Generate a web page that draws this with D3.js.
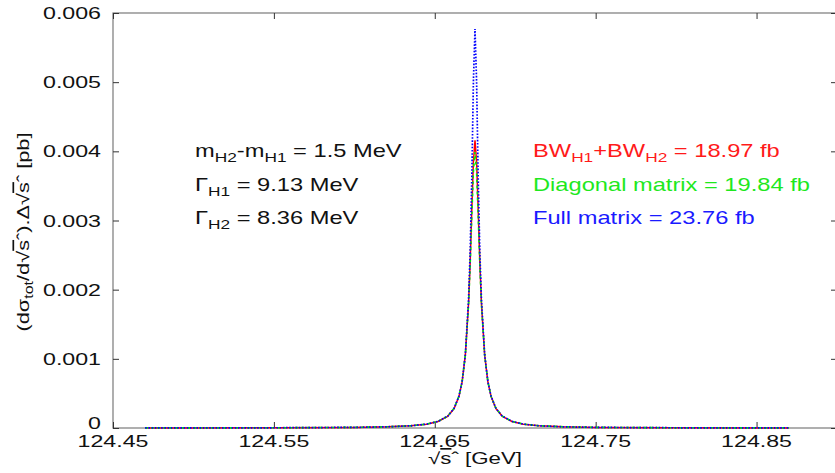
<!DOCTYPE html>
<html>
<head>
<meta charset="utf-8">
<script src="https://cdn.jsdelivr.net/npm/d3@7"></script>
<style>
  body { margin: 0; background: #fff; }
  svg { display: block; }
  text { font-family: "Liberation Sans", Arial, Helvetica, sans-serif; }
</style>
</head>
<body>
<svg id="chart" width="835" height="473"></svg>
<script>
// Partonic centre-of-mass energy bins (GeV)
const sqrtS = [124.470, 124.500, 124.550, 124.600, 124.620, 124.635, 124.645, 124.652, 124.658,
  124.662, 124.665, 124.667, 124.669, 124.671, 124.672, 124.673, 124.674, 124.675, 124.676,
  124.677, 124.678, 124.679, 124.681, 124.683, 124.685, 124.688, 124.692, 124.698, 124.705,
  124.715, 124.730, 124.750, 124.800, 124.850, 124.870];

// (dσ_tot / d√ŝ)·Δ√ŝ in pb for each treatment of the two-state system
const bwSum = [1.2e-6, 1.7e-6, 3.3e-6, 9.0e-6, 1.68e-5, 3.16e-5, 5.59e-5, 9.42e-5, 1.69e-4,
  2.82e-4, 4.54e-4, 6.68e-4, 1.056e-3, 1.804e-3, 2.398e-3, 3.136e-3, 3.846e-3, 4.16e-3, 3.846e-3,
  3.136e-3, 2.398e-3, 1.804e-3, 1.056e-3, 6.68e-4, 4.54e-4, 2.82e-4, 1.69e-4, 9.42e-5, 5.59e-5,
  3.16e-5, 1.68e-5, 9.0e-6, 3.3e-6, 1.7e-6, 1.3e-6];
const diagMatrix = [1.2e-6, 1.7e-6, 3.3e-6, 9.2e-6, 1.70e-5, 3.21e-5, 5.66e-5, 9.54e-5, 1.71e-4,
  2.84e-4, 4.58e-4, 6.72e-4, 1.056e-3, 1.786e-3, 2.355e-3, 3.049e-3, 3.704e-3, 3.99e-3, 3.704e-3,
  3.049e-3, 2.355e-3, 1.786e-3, 1.056e-3, 6.72e-4, 4.58e-4, 2.84e-4, 1.71e-4, 9.54e-5, 5.66e-5,
  3.21e-5, 1.70e-5, 9.2e-6, 3.3e-6, 1.7e-6, 1.3e-6];
const fullMatrix = [1.2e-6, 1.7e-6, 3.3e-6, 9.1e-6, 1.69e-5, 3.18e-5, 5.62e-5, 9.5e-5, 1.70e-4,
  2.84e-4, 4.58e-4, 6.70e-4, 1.06e-3, 1.86e-3, 2.55e-3, 3.60e-3, 5.00e-3, 5.77e-3, 5.00e-3,
  3.60e-3, 2.55e-3, 1.86e-3, 1.06e-3, 6.70e-4, 4.58e-4, 2.84e-4, 1.70e-4, 9.5e-5, 5.62e-5,
  3.18e-5, 1.69e-5, 9.1e-6, 3.3e-6, 1.7e-6, 1.3e-6];

const xTicks = [124.45, 124.55, 124.65, 124.75, 124.85];
const xTickLabels = ["124.45", "124.55", "124.65", "124.75", "124.85"];
const yTicks = [0, 0.001, 0.002, 0.003, 0.004, 0.005, 0.006];
const yTickLabels = ["0", "0.001", "0.002", "0.003", "0.004", "0.005", "0.006"];

const seriesNames = ["bw", "diag", "full"];
const seriesValues = [bwSum, diagMatrix, fullMatrix];

const svg = d3.select("#chart");
const plotL = 113, plotR = 837, plotT = 13, plotB = 428;

const x = d3.scaleLinear().domain([124.45, 124.90]).range([plotL, plotR]);
const y = d3.scaleLinear().domain([0, 0.006]).range([plotB, plotT]);

// Horizontally widened text, as the plot's lettering is set wide
function wideText(parent, px, py, sx, anchor, size) {
  return parent.append("text")
    .attr("transform", `translate(${px},${py}) scale(${sx},1)`)
    .attr("text-anchor", anchor)
    .attr("font-size", size);
}

// Text with subscripts: parts = [[string, isSub], ...]
function richText(t, parts, subSize, shift) {
  let down = false;
  parts.forEach(([s, sub]) => {
    const ts = t.append("tspan").text(s);
    if (sub && !down) { ts.attr("dy", shift); down = true; }
    else if (!sub && down) { ts.attr("dy", -shift); down = false; }
    if (sub) ts.attr("font-size", subSize);
  });
  return t;
}

// Frame
svg.append("rect")
  .attr("x", plotL).attr("y", plotT)
  .attr("width", plotR - plotL).attr("height", plotB - plotT)
  .attr("fill", "none").attr("stroke", "#7a7a7a").attr("stroke-width", 1.2);

// Axes with inward ticks, mirrored on the opposite sides
const tickLen = 6;
const gx = svg.append("g").attr("transform", `translate(0,${plotB})`)
  .call(d3.axisBottom(x).tickValues(xTicks).tickSizeInner(-tickLen).tickSizeOuter(0).tickFormat(""));
const gxTop = svg.append("g").attr("transform", `translate(0,${plotT})`)
  .call(d3.axisTop(x).tickValues(xTicks).tickSizeInner(-tickLen).tickSizeOuter(0).tickFormat(""));
const gy = svg.append("g").attr("transform", `translate(${plotL},0)`)
  .call(d3.axisLeft(y).tickValues(yTicks).tickSizeInner(-tickLen).tickSizeOuter(0).tickFormat(""));
const gyRight = svg.append("g").attr("transform", `translate(${plotR},0)`)
  .call(d3.axisRight(y).tickValues(yTicks).tickSizeInner(-tickLen).tickSizeOuter(0).tickFormat(""));
[gx, gxTop, gy, gyRight].forEach(g => {
  g.select(".domain").remove();
  g.selectAll(".tick line").attr("stroke", "#333").attr("stroke-width", 1);
});

// Tick labels (the zero label sits a little higher, clear of the x labels)
const tickLabels = svg.append("g").attr("fill", "#111");
xTicks.forEach((v, i) => {
  wideText(tickLabels, x(v), plotB + 19, 1.45, "middle", 16).text(xTickLabels[i]);
});
yTicks.forEach((v, i) => {
  const lift = v === 0 ? 5 : 0;
  wideText(tickLabels, plotL - 12, y(v) + 6 - lift, 1.45, "end", 16).text(yTickLabels[i]);
});

// Axis titles
const xt = wideText(svg, x(124.675), 464, 1.35, "middle", 16.5).attr("fill", "#111");
xt.append("tspan").text("√");
xt.append("tspan").style("text-decoration", "overline").text("s");
xt.append("tspan").text("ˆ [GeV]");

const yt = svg.append("text")
  .attr("transform", "translate(29,232) rotate(-90) scale(1.28,1)")
  .attr("text-anchor", "middle").attr("font-size", 17).attr("fill", "#111");
yt.append("tspan").text("(dσ");
yt.append("tspan").attr("font-size", 12.5).attr("dy", 4).text("tot");
yt.append("tspan").attr("dy", -4).text("/d√");
yt.append("tspan").style("text-decoration", "overline").text("s");
yt.append("tspan").text("ˆ).Δ√");
yt.append("tspan").style("text-decoration", "overline").text("s");
yt.append("tspan").text("ˆ [pb]");

// Curves
const line = d3.line().x((d, i) => x(sqrtS[i])).y(d => y(d));
const styles = {
  bw:   { color: "#ff0000", width: 1.5, dash: null },
  diag: { color: "#00ee00", width: 1.6, dash: "3,3" },
  full: { color: "#0000ff", width: 1.7, dash: "1.6,1.6" }
};
const curves = svg.append("g").attr("fill", "none");
seriesNames.forEach((name, k) => {
  const s = styles[name];
  curves.append("path")
    .datum(seriesValues[k])
    .attr("d", line)
    .attr("stroke", s.color)
    .attr("stroke-width", s.width)
    .attr("stroke-dasharray", s.dash);
});

// Parameter annotations
const ann = svg.append("g").attr("fill", "#111");
const annSize = 18.5, annSub = 13.5, annShift = 5, annSx = 1.28;
richText(wideText(ann, 195, 157, annSx, "start", annSize),
  [["m", false], ["H2", true], ["-m", false], ["H1", true], [" = 1.5 MeV", false]], annSub, annShift);
richText(wideText(ann, 195, 191, annSx, "start", annSize),
  [["Γ", false], ["H1", true], [" = 9.13 MeV", false]], annSub, annShift);
richText(wideText(ann, 195, 224, annSx, "start", annSize),
  [["Γ", false], ["H2", true], [" = 8.36 MeV", false]], annSub, annShift);

// Integrated cross sections
richText(wideText(svg, 533, 157, annSx, "start", annSize).attr("fill", "#ff1a1a"),
  [["BW", false], ["H1", true], ["+BW", false], ["H2", true], [" = 18.97 fb", false]], annSub, annShift);
richText(wideText(svg, 533, 191, annSx, "start", annSize).attr("fill", "#1ee81e"),
  [["Diagonal matrix = 19.84 fb", false]], annSub, annShift);
richText(wideText(svg, 533, 224, annSx, "start", annSize).attr("fill", "#1a1aff"),
  [["Full matrix = 23.76 fb", false]], annSub, annShift);
</script>
</body>
</html>
